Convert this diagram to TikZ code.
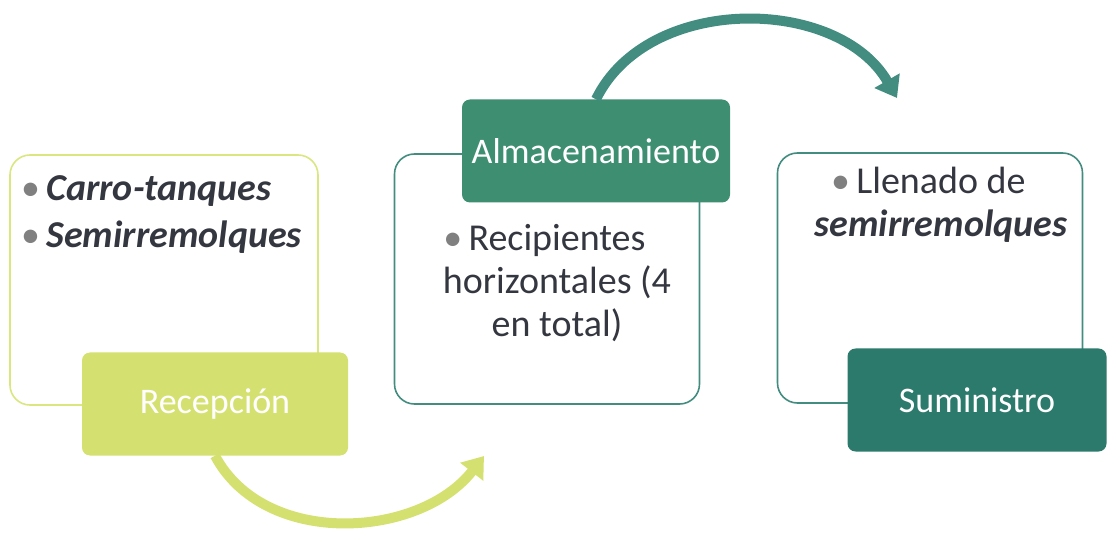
\documentclass[tikz,border=0pt]{standalone}
\usepackage{fontspec}
\setmainfont{Carlito}
\usetikzlibrary{arrows.meta}

\definecolor{limeline}{RGB}{218,230,128}
\definecolor{limefill}{RGB}{212,225,112}
\definecolor{tealline}{RGB}{66,140,128}
\definecolor{almacfill}{RGB}{62,142,114}
\definecolor{suminfill}{RGB}{44,122,108}
\definecolor{textgray}{RGB}{52,54,64}

\tikzset{
	panel/.style={draw, line width=1.6pt, rounded corners=20pt, minimum width=#1, minimum height=250pt},
	tag/.style={rounded corners=8pt, minimum height=103pt, text=white, font=\fontsize{36}{43}\selectfont},
	body/.style={text=textgray, inner sep=0pt, font=\fontsize{38}{43}\selectfont},
	flowarrow/.style={line width=10pt, -{Triangle[length=20pt,width=28pt]}}
}
\newcommand{\bulletdot}{{\color{gray}\textbullet}\,}

\begin{document}
\begin{tikzpicture}[x=1pt,y=1pt]
		%%%%% START %%%%%
		\useasboundingbox (0,0) rectangle (1107,538);
		
		% boxes
		\node[panel=308pt, draw=limeline] (recepbox) at (164,258) {};
		\node[panel=305pt, draw=tealline] (almacbox) at (547,259) {};
		\node[panel=305pt, draw=tealline] (suminbox) at (930,260) {};
		
		% box texts
		\node[body, anchor=north west, align=left] (recepitems) at (21,363)
			{\bulletdot\textbf{\textit{Carro-tanques}}\\[4pt]\bulletdot\textbf{\textit{Semirremolques}}};
		\node[body, anchor=north, align=center] (almacitems) at (557,314)
			{\llap{\bulletdot}Recipientes\\horizontales (4\\en total)};
		\node[body, anchor=north, align=center] (suminitems) at (941,371)
			{\llap{\bulletdot}Llenado de\\\textbf{\textit{semirremolques}}};
		
		% tags
		\node[tag, fill=limefill, minimum width=266pt] (recep) at (215,134) {Recepción};
		\node[tag, fill=almacfill, minimum width=268pt] (almac) at (596,387) {Almacenamiento};
		\node[tag, fill=suminfill, minimum width=259pt] (sumin) at (977,138) {Suministro};
		
		% arrows
		\coordinate (recepend) at (484,82);
		\coordinate (almacend) at (897,440);
		\draw[flowarrow, draw=limefill] (recep.south) to[out=-62, in=-128] (recepend);
		\draw[flowarrow, draw=tealline] (almac.north) to[out=64, in=120] (almacend);
		
		%%%%% END %%%%%
	\end{tikzpicture}
\end{document}
